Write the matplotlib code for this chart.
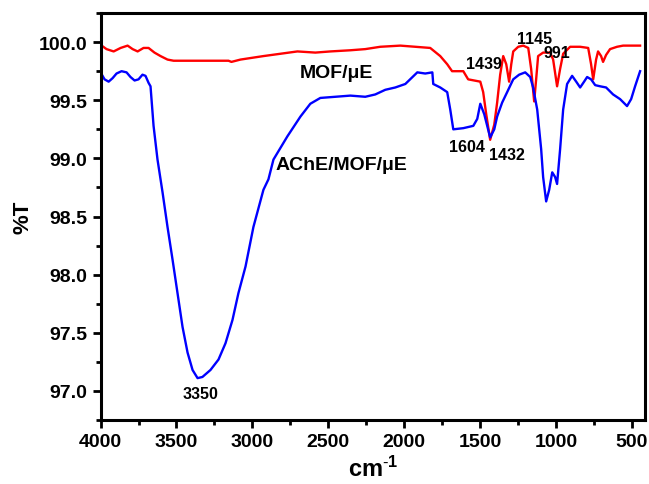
import matplotlib
matplotlib.use("Agg")
import matplotlib.pyplot as plt
from matplotlib.ticker import MultipleLocator

plt.rcParams['font.family'] = ['Liberation Sans', 'DejaVu Sans']
plt.rcParams['mathtext.fontset'] = 'custom'
plt.rcParams['mathtext.rm'] = 'Liberation Sans'
plt.rcParams['mathtext.bf'] = 'Liberation Sans:bold'

# AChE/MOF/μE (blue)
ache_x = [4000, 3974, 3947, 3921, 3895, 3862, 3829, 3803, 3776, 3750, 3724, 3704, 3684, 3671,
          3651, 3625, 3592, 3559, 3526, 3493, 3460, 3427, 3394, 3361, 3329, 3276, 3223, 3177,
          3131, 3092, 3045, 2993, 2927, 2894, 2861, 2769, 2683, 2618, 2552, 2453, 2354, 2256,
          2190, 2124, 2058, 1992, 1913, 1861, 1814, 1808, 1762, 1716, 1696, 1676, 1610, 1544,
          1518, 1498, 1472, 1433, 1406, 1387, 1354, 1321, 1281, 1242, 1202, 1169, 1150, 1123,
          1097, 1084, 1064, 1044, 1024, 1005, 992, 972, 952, 926, 893, 866, 840, 814, 794, 768,
          741, 708, 669, 623, 577, 531, 504, 478, 445]
ache_y = [99.74, 99.68, 99.66, 99.69, 99.73, 99.75, 99.74, 99.70, 99.67, 99.68, 99.72, 99.71,
          99.65, 99.62, 99.28, 98.99, 98.71, 98.41, 98.13, 97.84, 97.55, 97.33, 97.18, 97.11,
          97.12, 97.18, 97.27, 97.41, 97.61, 97.84, 98.07, 98.41, 98.73, 98.82, 98.99, 99.19,
          99.36, 99.47, 99.52, 99.53, 99.54, 99.53, 99.55, 99.59, 99.61, 99.64, 99.74, 99.73,
          99.74, 99.64, 99.61, 99.57, 99.42, 99.25, 99.26, 99.28, 99.34, 99.47, 99.38, 99.18,
          99.25, 99.36, 99.48, 99.57, 99.68, 99.72, 99.74, 99.70, 99.61, 99.42, 99.08, 98.84,
          98.63, 98.73, 98.88, 98.84, 98.78, 99.08, 99.42, 99.64, 99.71, 99.66, 99.61, 99.66,
          99.70, 99.68, 99.63, 99.62, 99.61, 99.55, 99.51, 99.45, 99.51, 99.62, 99.75]

# MOF/μE (red)
mof_x = [3993, 3961, 3914, 3868, 3822, 3789, 3756, 3717, 3684, 3645, 3605, 3559, 3519, 3408,
         3276, 3157, 3138, 3078, 2927, 2815, 2703, 2585, 2486, 2354, 2256, 2157, 2025, 1926,
         1828, 1762, 1716, 1684, 1610, 1578, 1498, 1479, 1459, 1433, 1406, 1387, 1367, 1347,
         1327, 1308, 1294, 1281, 1248, 1215, 1182, 1163, 1143, 1130, 1117, 1084, 1038, 1018,
         992, 972, 952, 906, 840, 787, 768, 754, 735, 722, 702, 689, 669, 643, 597, 557, 511, 445]
mof_y = [99.97, 99.94, 99.92, 99.95, 99.97, 99.94, 99.92, 99.95, 99.95, 99.91, 99.88, 99.85,
         99.84, 99.84, 99.84, 99.84, 99.83, 99.85, 99.88, 99.90, 99.92, 99.91, 99.92, 99.93,
         99.94, 99.96, 99.97, 99.96, 99.95, 99.88, 99.81, 99.75, 99.75, 99.68, 99.66, 99.57,
         99.38, 99.16, 99.29, 99.48, 99.72, 99.88, 99.81, 99.66, 99.81, 99.92, 99.96, 99.97,
         99.95, 99.77, 99.49, 99.68, 99.88, 99.91, 99.91, 99.85, 99.62, 99.77, 99.90, 99.96,
         99.96, 99.95, 99.81, 99.68, 99.85, 99.92, 99.88, 99.83, 99.89, 99.94, 99.96, 99.97,
         99.97, 99.97]

peak_labels = ["3350", "1604", "1432", "1439", "1145", "991"]
peak_x = [3342, 1584, 1321, 1472, 1143, 992]
peak_y = [96.98, 99.10, 99.03, 99.82, 100.03, 99.91]

series_labels = ["MOF/μE", "AChE/MOF/μE"]
series_label_x = [2446, 2413]
series_label_y = [99.74, 98.95]

fig = plt.figure(figsize=(6.49, 4.85), dpi=100)
ax = fig.add_axes([0.155, 0.132, 0.839, 0.839])

ax.plot(mof_x, mof_y, color='#ff0000', lw=1.7)
ax.plot(ache_x, ache_y, color='#0000ff', lw=1.7)

ax.set_xlim(4000, 412)
ax.set_ylim(96.75, 100.25)
ax.xaxis.set_major_locator(MultipleLocator(500))
ax.xaxis.set_minor_locator(MultipleLocator(250))
ax.yaxis.set_major_locator(MultipleLocator(0.5))
ax.yaxis.set_minor_locator(MultipleLocator(0.25))
ax.yaxis.set_major_formatter(plt.FormatStrFormatter('%.1f'))

for s in ax.spines.values():
    s.set_linewidth(2.2)
ax.tick_params(which='major', direction='out', length=6, width=2, labelsize=14)
ax.tick_params(which='minor', direction='out', length=3.5, width=2)
for lab in ax.get_xticklabels() + ax.get_yticklabels():
    lab.set_fontweight('bold')

ax.set_ylabel('%T', fontsize=16, fontweight='bold', labelpad=4)
ax.set_xlabel(r'$\mathbf{cm^{\text{-}1}}$', fontsize=17, labelpad=4)

for t, x, y in zip(peak_labels, peak_x, peak_y):
    ax.text(x, y, t, fontsize=11.5, fontweight='bold', ha='center', va='center')
for t, x, y in zip(series_labels, series_label_x, series_label_y):
    ax.text(x, y, t, fontsize=14, fontweight='bold', ha='center', va='center')

fig.savefig('out.png', dpi=100)
